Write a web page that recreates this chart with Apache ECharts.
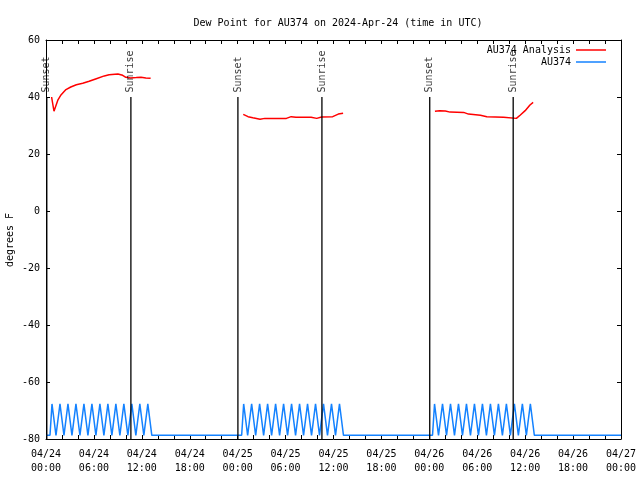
<!DOCTYPE html>
<html><head><meta charset="utf-8">
<script src="https://cdn.jsdelivr.net/npm/echarts@6/dist/echarts.min.js"></script>
<style>html,body{margin:0;padding:0;background:#fff}#c{width:640px;height:480px}</style>
</head><body><div id="c"></div>
<script>
// tick labels (x axis, every 6 hours from 2024-04-24 00:00 UTC)
const tickDates = ['04/24','04/24','04/24','04/24','04/25','04/25','04/25','04/25','04/26','04/26','04/26','04/26','04/27'];
const tickTimes = ['00:00','06:00','12:00','18:00','00:00','06:00','12:00','18:00','00:00','06:00','12:00','18:00','00:00'];

// AU374 Analysis (hours since 04/24 00:00, deg F)
const anaDay1T = [0.7, 1.0, 1.5, 1.9, 2.5, 3.1, 3.8, 4.6, 5.4, 6.3, 7.3, 7.9, 9.0, 9.6, 10.0, 10.6, 11.3, 11.9, 12.5, 13.1];
const anaDay1V = [40.0, 35.0, 39.0, 40.8, 42.6, 43.5, 44.3, 44.8, 45.5, 46.4, 47.4, 47.8, 48.1, 47.6, 46.9, 46.7, 46.8, 46.9, 46.7, 46.6];
const anaDay2T = [24.7, 25.3, 25.9, 26.8, 27.4, 30.1, 30.7, 31.3, 33.2, 33.9, 34.5, 35.9, 36.6, 37.2];
const anaDay2V = [33.9, 33.1, 32.7, 32.2, 32.5, 32.5, 33.1, 32.9, 32.9, 32.5, 33.0, 33.1, 34.0, 34.3];
const anaDay3T = [48.7, 49.3, 50.0, 50.6, 52.3, 52.9, 54.4, 55.2, 57.3, 57.5, 58.9, 59.4, 60.0, 60.6, 61.0];
const anaDay3V = [35.0, 35.2, 35.1, 34.7, 34.6, 34.0, 33.6, 33.1, 32.9, 32.5, 32.5, 33.7, 35.2, 37.2, 38.1];

// AU374 observations, 15-minute samples starting at each block start
const obsStart = [0.5, 24.5, 48.4];
const obsStep = 0.25;
const obsDay1 = [-78.7,-67.7,-67.7,-78.7,-78.7,-67.7,-67.7,-78.7,-78.7,-67.7,-67.7,-78.7,-78.7,-67.7,-67.7,-78.7,-78.7,-67.7,-67.7,-78.7,-78.7,-67.7,-67.7,-78.7,-78.7,-67.7,-67.7,-78.7,-78.7,-67.7,-67.7,-78.7,-78.7,-67.7,-67.7,-78.7,-78.7,-67.7,-67.7,-78.7,-78.7,-67.7,-67.7,-78.7,-78.7,-67.7,-67.7,-78.7,-78.7,-67.7,-67.7,-78.7];
const obsDay2 = [-78.7,-67.7,-67.7,-78.7,-78.7,-67.7,-67.7,-78.7,-78.7,-67.7,-67.7,-78.7,-78.7,-67.7,-67.7,-78.7,-78.7,-67.7,-67.7,-78.7,-78.7,-67.7,-67.7,-78.7,-78.7,-67.7,-67.7,-78.7,-78.7,-67.7,-67.7,-78.7,-78.7,-67.7,-67.7,-78.7,-78.7,-67.7,-67.7,-78.7,-78.7,-67.7,-67.7,-78.7,-78.7,-67.7,-67.7,-78.7,-78.7,-67.7,-67.7,-78.7];
const obsDay3 = [-78.7,-67.7,-67.7,-78.7,-78.7,-67.7,-67.7,-78.7,-78.7,-67.7,-67.7,-78.7,-78.7,-67.7,-67.7,-78.7,-78.7,-67.7,-67.7,-78.7,-78.7,-67.7,-67.7,-78.7,-78.7,-67.7,-67.7,-78.7,-78.7,-67.7,-67.7,-78.7,-78.7,-67.7,-67.7,-78.7,-78.7,-67.7,-67.7,-78.7,-78.7,-67.7,-67.7,-78.7,-78.7,-67.7,-67.7,-78.7,-78.7,-67.7,-67.7,-78.7];
const obsBase = -78.7;

// Sunset / Sunrise markers (hours)
const eventNames = ['Sunset','Sunrise','Sunset','Sunrise','Sunset','Sunrise'];
const eventTimes = [0.1, 10.63, 24.03, 34.55, 48.05, 58.5];
const eventTop = 40, eventBottom = -80;

const FONT = 'DejaVu Sans Mono';
const zip = (t, v) => t.map((x, i) => [x, v[i]]);

const obsData = [[0, obsBase]];
[obsDay1, obsDay2, obsDay3].forEach((arr, d) => {
  arr.forEach((v, i) => obsData.push([obsStart[d] + i * obsStep, v]));
});
obsData.push([72, obsBase]);

const series = [];
[[anaDay1T, anaDay1V], [anaDay2T, anaDay2V], [anaDay3T, anaDay3V]].forEach(([t, v]) => {
  series.push({ name: 'AU374 Analysis', type: 'line', data: zip(t, v), symbol: 'none',
    lineStyle: { color: '#ff0000', width: 1.5 }, itemStyle: { color: '#ff0000' }, z: 5 });
});
series.push({ name: 'AU374', type: 'line', data: obsData, symbol: 'none',
  lineStyle: { color: '#1482ff', width: 1.5 }, itemStyle: { color: '#1482ff' }, z: 4 });
eventTimes.forEach((t) => {
  series.push({ type: 'line', data: [[t, eventTop], [t, eventBottom]], symbol: 'none', silent: true,
    lineStyle: { color: '#000', width: 1.3 }, z: 6 });
});
series.push({ type: 'scatter', silent: true, symbolSize: 1, itemStyle: { color: 'rgba(0,0,0,0)' },
  data: eventTimes.map((t, i) => ({ value: [t, eventTop], name: eventNames[i] })),
  label: { show: true, formatter: p => p.name, position: 'top', distance: 4, rotate: 90,
    align: 'left', verticalAlign: 'middle', fontFamily: FONT, fontSize: 10, color: '#000' }, z: 7 });

const axisLine = { show: true, onZero: false, lineStyle: { color: '#000', width: 1 } };
const chart = echarts.init(document.getElementById('c'));
chart.setOption({
  animation: false,
  backgroundColor: '#fff',
  title: { text: 'Dew Point for AU374 on 2024-Apr-24 (time in UTC)', left: 333, top: 13, textAlign: 'center',
    textStyle: { fontFamily: FONT, fontSize: 10, fontWeight: 'normal', color: '#000' } },
  legend: { data: ['AU374 Analysis', 'AU374'], orient: 'vertical', right: 29, top: 40, align: 'right',
    icon: 'rect', itemWidth: 30, itemHeight: 1.5, itemGap: 2,
    textStyle: { fontFamily: FONT, fontSize: 10, color: '#000' } },
  graphic: [{ type: 'text', x: 10, y: 240, rotation: Math.PI / 2, silent: true,
    style: { text: 'degrees F', fontFamily: FONT, fontSize: 10, fill: '#000', align: 'center', verticalAlign: 'middle' } }],
  grid: { left: 46, right: 19, top: 40, bottom: 41, containLabel: false, outerBoundsMode: 'none' },
  xAxis: [
    { type: 'value', min: 0, max: 72, interval: 6, position: 'bottom', axisLine,
      axisTick: { show: true, inside: true, length: 4, lineStyle: { color: '#000' } },
      minorTick: { show: true, splitNumber: 3, length: 4, lineStyle: { color: '#000' } },
      splitLine: { show: false },
      axisLabel: { margin: 8, lineHeight: 14, fontFamily: FONT, fontSize: 10, color: '#000',
        formatter: v => { const i = Math.round(v / 6); return tickDates[i] + '\n' + tickTimes[i]; } } },
    { type: 'value', min: 0, max: 72, interval: 6, position: 'top', axisLine,
      axisTick: { show: true, inside: true, length: 4, lineStyle: { color: '#000' } },
      minorTick: { show: true, splitNumber: 3, length: 4, lineStyle: { color: '#000' } },
      splitLine: { show: false }, axisLabel: { show: false } }
  ],
  yAxis: [
    { type: 'value', min: -80, max: 60, interval: 20, position: 'left', axisLine,
      axisTick: { show: true, inside: true, length: 4, lineStyle: { color: '#000' } },
      splitLine: { show: false },
      axisLabel: { margin: 6, fontFamily: FONT, fontSize: 10, color: '#000' } },
    { type: 'value', min: -80, max: 60, interval: 20, position: 'right', axisLine,
      axisTick: { show: true, inside: true, length: 4, lineStyle: { color: '#000' } },
      splitLine: { show: false }, axisLabel: { show: false } }
  ],
  series
});
</script></body></html>
